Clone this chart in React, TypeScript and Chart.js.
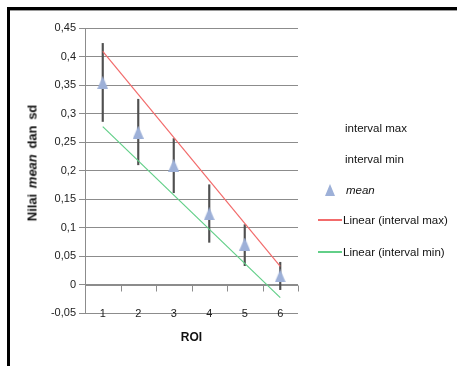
import React, { useEffect, useRef } from "react";
import { Chart, registerables } from "chart.js";

Chart.register(...registerables);

const categories = ["1", "2", "3", "4", "5", "6"];
const intervalMax = [0.423, 0.325, 0.256, 0.175, 0.105, 0.039];
const intervalMin = [0.286, 0.21, 0.161, 0.074, 0.033, -0.009];
const meanValues = [0.354, 0.267, 0.209, 0.124, 0.071, 0.015];
// Excel linear trend lines (endpoints)
const trendMax = [0.409, null, null, null, null, 0.032];
const trendMin = [0.277, null, null, null, null, -0.023];
const yTickValues = [-0.05, 0, 0.05, 0.1, 0.15, 0.2, 0.25, 0.3, 0.35, 0.4, 0.45];

const FONT = "'Liberation Sans', Arial, sans-serif";
const GRID = "#8c8c8c";
const RED = "#f26b6b";
const GREEN = "#62cf88";
const TRI = "#9db0d8";

function makeTriangle(): HTMLCanvasElement {
  const c = document.createElement("canvas");
  c.width = 11;
  c.height = 13;
  const ctx = c.getContext("2d")!;
  ctx.fillStyle = TRI;
  ctx.beginPath();
  ctx.moveTo(5.5, 0);
  ctx.lineTo(11, 13);
  ctx.lineTo(0, 13);
  ctx.closePath();
  ctx.fill();
  return c;
}

const fmt = (v: number) => String(Math.round(v * 100) / 100).replace(".", ",");

export default function App() {
  const ref = useRef<HTMLCanvasElement>(null);

  useEffect(() => {
    const tri = makeTriangle();
    const zeroAxis = {
      id: "zeroAxis",
      beforeDatasetsDraw(chart: any) {
        const { ctx, scales } = chart;
        const x = scales.x;
        const y = scales.y;
        const y0 = Math.round(y.getPixelForValue(0)) + 0.5;
        const step = x.getPixelForValue(1) - x.getPixelForValue(0);
        ctx.save();
        ctx.strokeStyle = GRID;
        ctx.lineWidth = 1;
        ctx.beginPath();
        ctx.moveTo(chart.chartArea.left, y0);
        ctx.lineTo(chart.chartArea.right, y0);
        for (let i = 0; i < categories.length; i++) {
          const px = Math.round(x.getPixelForValue(i) + step / 2) + 0.5;
          ctx.moveTo(px, y0);
          ctx.lineTo(px, y0 + 6);
        }
        ctx.stroke();
        ctx.restore();
      },
      afterDraw(chart: any) {
        const { ctx, scales } = chart;
        const x = scales.x;
        const yb = chart.chartArea.bottom;
        ctx.save();
        ctx.fillStyle = "#222";
        ctx.font = `11px ${FONT}`;
        ctx.textAlign = "center";
        ctx.textBaseline = "middle";
        categories.forEach((c, i) => {
          ctx.fillText(c, x.getPixelForValue(i), yb + 0.5);
        });
        ctx.restore();
      },
    };

    const chart = new Chart(ref.current!, {
      type: "bar",
      data: {
        labels: categories,
        datasets: [
          {
            type: "bar",
            label: "interval max / interval min",
            data: intervalMin.map((v, i) => [v, intervalMax[i]]) as any,
            backgroundColor: "#505050",
            borderWidth: 0,
            barThickness: 1.5,
            order: 3,
          },
          {
            type: "line",
            label: "Linear (interval max)",
            data: trendMax as any,
            borderColor: RED,
            borderWidth: 1.2,
            pointRadius: 0,
            spanGaps: true,
            order: 2,
          },
          {
            type: "line",
            label: "Linear (interval min)",
            data: trendMin as any,
            borderColor: GREEN,
            borderWidth: 1.2,
            pointRadius: 0,
            spanGaps: true,
            order: 2,
          },
          {
            type: "line",
            label: "mean",
            data: meanValues,
            showLine: false,
            pointStyle: tri as any,
            pointRadius: 6,
            order: 0,
          },
        ],
      },
      options: {
        responsive: false,
        animation: false,
        layout: { padding: { top: 28, right: 159, left: 0, bottom: 0 } },
        plugins: { legend: { display: false }, tooltip: { enabled: false } },
        scales: {
          x: {
            type: "category",
            offset: true,
            grid: { display: false, drawTicks: false },
            border: { display: false },
            ticks: { display: false },
            title: {
              display: true,
              text: "ROI",
              color: "#111",
              font: { family: FONT, size: 12, weight: "bold" },
              padding: { top: 0, bottom: 21 },
            },
            afterFit(scale: any) {
              scale.height = 53;
            },
          },
          y: {
            min: -0.05,
            max: 0.45,
            afterBuildTicks(scale: any) {
              scale.ticks = yTickValues.map((v) => ({ value: v }));
            },
            grid: { color: GRID, tickLength: 6, lineWidth: 1 },
            border: { color: GRID },
            ticks: {
              padding: 3,
              color: "#222",
              font: { family: FONT, size: 11 },
              callback: (v: any) => fmt(Number(v)),
            },
            afterFit(scale: any) {
              scale.width = 85;
            },
          },
        },
      },
      plugins: [zeroAxis],
    });
    return () => chart.destroy();
  }, []);

  const legendText: React.CSSProperties = {
    position: "absolute",
    left: 345,
    height: 14,
    lineHeight: "14px",
    fontFamily: FONT,
    fontSize: 11.5,
    color: "#111",
    whiteSpace: "nowrap",
  };

  return (
    <div style={{ position: "fixed", left: 0, top: 0, width: 457, height: 366, background: "#fff", overflow: "hidden" }}>
      <div style={{ position: "absolute", left: 7, top: 7, width: 3, height: 359, background: "#000" }} />
      <div style={{ position: "absolute", left: 7, top: 7, width: 450, height: 3, background: "#000" }} />
      <div style={{ position: "absolute", left: 10, top: 10, width: 447, height: 1, background: "#9a9a9a" }} />
      <canvas ref={ref} width={457} height={366} style={{ position: "absolute", left: 0, top: 0 }} />
      <div
        style={{
          position: "absolute",
          left: 31.5,
          top: 163,
          transform: "translate(-50%, -50%) rotate(-90deg)",
          whiteSpace: "nowrap",
          fontFamily: FONT,
          fontWeight: "bold",
          fontSize: 13,
          wordSpacing: 2,
          color: "#111",
        }}
      >
        Nilai <i>mean</i> dan sd
      </div>
      <div style={{ ...legendText, top: 121 }}>interval max</div>
      <div style={{ ...legendText, top: 152 }}>interval min</div>
      <svg style={{ position: "absolute", left: 325, top: 184 }} width={10} height={12}>
        <polygon points="5,0 10,12 0,12" fill={TRI} />
      </svg>
      <div style={{ ...legendText, top: 183, left: 346, fontStyle: "italic" }}>mean</div>
      <div style={{ position: "absolute", left: 318, top: 219, width: 24, height: 2, background: RED }} />
      <div style={{ ...legendText, top: 213, left: 343 }}>Linear (interval max)</div>
      <div style={{ position: "absolute", left: 318, top: 251, width: 24, height: 2, background: GREEN }} />
      <div style={{ ...legendText, top: 245, left: 343 }}>Linear (interval min)</div>
    </div>
  );
}
